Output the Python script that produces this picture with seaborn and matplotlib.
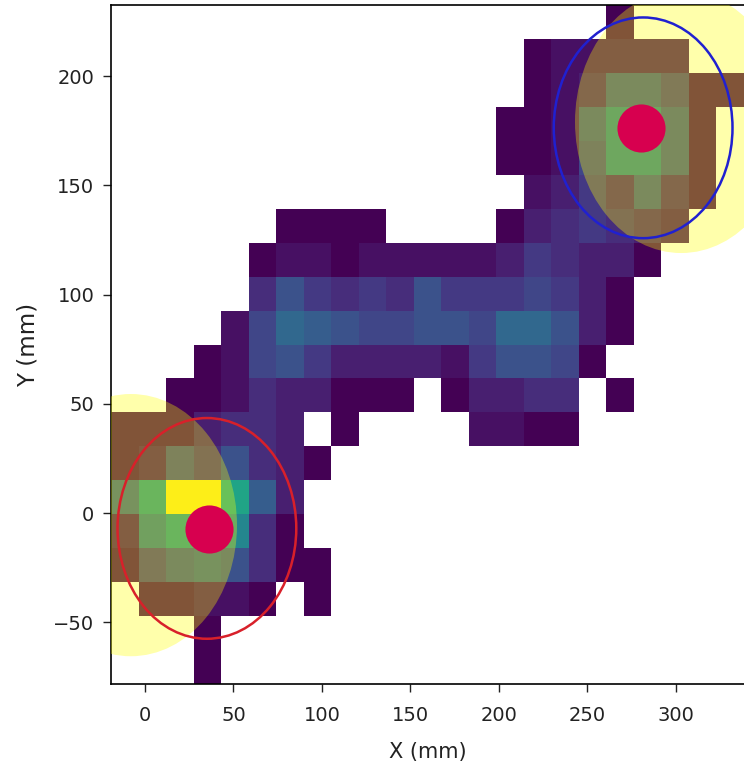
import numpy as np
import pandas as pd
import matplotlib
matplotlib.use("Agg")
import matplotlib.pyplot as plt
import seaborn as sns

# counts per bin, top row first
counts = [
    [0,0,0,0,0,0,0,0,0,0,0,0,0,0,0,0,0,0,1,0,0,0,0],
    [0,0,0,0,0,0,0,0,0,0,0,0,0,0,0,1,2,2,2,2,2,0,0],
    [0,0,0,0,0,0,0,0,0,0,0,0,0,0,0,1,2,3,7,7,5,1,1],
    [0,0,0,0,0,0,0,0,0,0,0,0,0,0,1,1,2,7,11,11,7,1,0],
    [0,0,0,0,0,0,0,0,0,0,0,0,0,0,1,1,2,6,11,11,7,1,0],
    [0,0,0,0,0,0,0,0,0,0,0,0,0,0,0,2,3,5,3,7,3,1,0],
    [0,0,0,0,0,0,1,1,1,1,0,0,0,0,1,3,4,5,4,3,2,0,0],
    [0,0,0,0,0,1,2,2,1,2,2,2,2,2,3,5,4,3,3,1,0,0,0],
    [0,0,0,0,0,4,7,5,4,5,4,7,5,5,5,6,5,3,1,0,0,0,0],
    [0,0,0,0,2,6,9,8,7,6,6,7,7,6,9,9,7,3,1,0,0,0,0],
    [0,0,0,1,2,6,7,5,3,3,3,3,2,5,7,7,6,1,0,0,0,0,0],
    [0,0,1,1,2,4,3,3,1,1,1,0,1,3,3,4,4,0,1,0,0,0,0],
    [1,1,1,3,4,4,3,0,1,0,0,0,0,2,2,1,1,0,0,0,0,0,0],
    [1,2,6,4,7,4,3,1,0,0,0,0,0,0,0,0,0,0,0,0,0,0,0],
    [8,13,25,25,15,8,3,0,0,0,0,0,0,0,0,0,0,0,0,0,0,0,0],
    [2,10,13,13,12,4,1,0,0,0,0,0,0,0,0,0,0,0,0,0,0,0,0],
    [1,5,7,8,7,4,1,1,0,0,0,0,0,0,0,0,0,0,0,0,0,0,0],
    [0,1,1,2,2,1,0,1,0,0,0,0,0,0,0,0,0,0,0,0,0,0,0],
    [0,0,0,1,0,0,0,0,0,0,0,0,0,0,0,0,0,0,0,0,0,0,0],
    [0,0,0,1,0,0,0,0,0,0,0,0,0,0,0,0,0,0,0,0,0,0,0],
]
x_min, x_max = -19.2, 338.5
y_min, y_max = -78.2, 232.5
n_cols, n_rows = 23, 20

# zones: (x, y, radius)
yellow_zones = [(-8, -5.5, 60), (303, 179, 60)]
ring_zones = [(35, -7, 50.5, "#d8202a"), (281.5, 176.3, 50.5, "#2020d0")]
targets_x = [36.2, 280.5]
targets_y = [-7.3, 176]

x_edges = np.linspace(x_min, x_max, n_cols + 1)
y_edges = np.linspace(y_min, y_max, n_rows + 1)
x_centers = (x_edges[:-1] + x_edges[1:]) / 2
y_centers = (y_edges[:-1] + y_edges[1:]) / 2

grid = np.array(counts)[::-1]
xx, yy = np.meshgrid(x_centers, y_centers)
df = pd.DataFrame({"x": xx.ravel(), "y": yy.ravel(), "n": grid.ravel()})
df = df[df["n"] > 0]

sns.set_style("ticks")
plt.rcParams["font.family"] = "DejaVu Sans"

fig = plt.figure(figsize=(7.44, 7.65), dpi=100)
ax = fig.add_axes([111 / 744, 1 - 684 / 765, 633 / 744, 679 / 765])

sns.histplot(data=df, x="x", y="y", weights="n", bins=[x_edges, y_edges],
             cmap="viridis", vmin=1, vmax=25, ax=ax)

for cx, cy, r in yellow_zones:
    ax.add_patch(plt.Circle((cx, cy), r, color="yellow", alpha=0.33, lw=0, zorder=3))
for cx, cy, r, col in ring_zones:
    ax.add_patch(plt.Circle((cx, cy), r, fill=False, edgecolor=col, lw=1.8, zorder=4))
sns.scatterplot(x=targets_x, y=targets_y, color="#d7004f", s=1200, linewidth=0, zorder=5, ax=ax)

ax.set_xlim(x_min, x_max)
ax.set_ylim(y_min, y_max)
ax.set_xticks([0, 50, 100, 150, 200, 250, 300])
ax.set_yticks([-50, 0, 50, 100, 150, 200])
ax.tick_params(labelsize=14, length=6, width=1, colors="#222222")
ax.tick_params(axis="x", pad=10)
ax.tick_params(axis="y", pad=6)
ax.set_xlabel("X (mm)", fontsize=15, color="#222222", labelpad=12)
ax.set_ylabel("Y (mm)", fontsize=16.5, color="#222222", labelpad=10)
for s in ax.spines.values():
    s.set_linewidth(1.2)
    s.set_color("black")
ax.spines["right"].set_visible(False)

fig.savefig("out.png", dpi=100)
